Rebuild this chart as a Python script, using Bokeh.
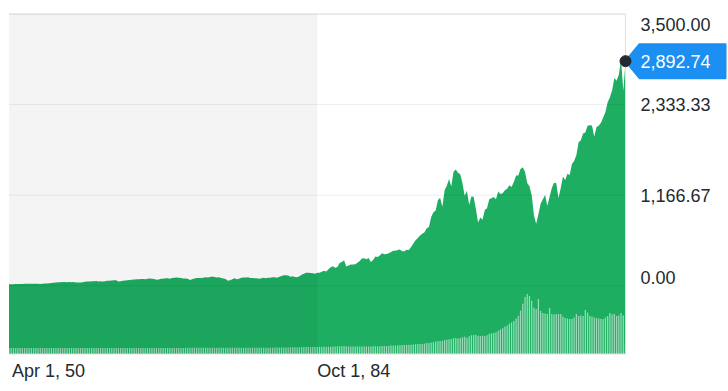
import pandas as pd
from bokeh.plotting import figure
from bokeh.models import Range1d, BoxAnnotation, ColumnDataSource
from bokeh.core.properties import value
from bokeh.embed import file_html
from bokeh.resources import INLINE

# ---- data: quarterly S&P 500 level (quarter start), Apr 1950 .. Apr 2019 ----
price = [
    17.3, 17.7, 19.5,                      # 1950
    20.4, 21.5, 21.0, 23.3,                # 1951
    23.8, 24.4, 25.0, 24.5,                # 1952
    26.2, 25.3, 24.1, 23.3,                # 1953
    24.8, 27.5, 29.2, 32.3,                # 1954
    35.9, 36.6, 41.0, 43.7,                # 1955
    45.4, 48.5, 46.9, 45.4,                # 1956
    46.2, 44.1, 47.4, 42.4,                # 1957
    40.3, 42.1, 45.2, 50.0,                # 1958
    55.4, 55.4, 58.5, 56.9,                # 1959
    59.9, 55.3, 56.9, 53.5,                # 1960
    58.1, 65.1, 64.6, 66.7,                # 1961
    71.6, 69.6, 54.8, 56.3,                # 1962
    63.1, 66.6, 69.4, 71.7,                # 1963
    75.0, 79.0, 81.7, 84.2,                # 1964
    84.8, 86.2, 84.1, 89.9,                # 1965
    92.4, 89.2, 84.7, 76.6,                # 1966
    80.3, 90.2, 90.6, 96.7,                # 1967
    96.5, 90.2, 99.6, 102.9,               # 1968
    103.9, 101.5, 97.7, 93.1,              # 1969
    92.1, 89.6, 72.7, 84.3,                # 1970
    92.2, 100.3, 99.2, 98.3,               # 1971
    102.1, 107.2, 107.1, 110.6,            # 1972
    118.1, 111.5, 104.3, 108.4,            # 1973
    97.6, 93.9, 86.0, 63.5,                # 1974
    70.2, 83.4, 95.2, 83.9,                # 1975
    90.2, 102.8, 104.3, 105.2,             # 1976
    107.5, 98.4, 100.5, 96.5,              # 1977
    95.1, 89.2, 95.5, 102.5,               # 1978
    96.1, 101.6, 102.9, 109.3,             # 1979
    107.9, 102.1, 114.2, 125.5,            # 1980
    135.8, 136.0, 131.2, 116.2,            # 1981
    122.6, 111.9, 109.6, 120.4,            # 1982
    140.6, 153.0, 168.1, 166.1,            # 1983
    164.9, 159.2, 153.2, 166.1,            # 1984
    167.2, 180.7, 191.9, 182.1,            # 1985
    211.3, 238.9, 250.8, 231.3,            # 1986
    242.2, 291.7, 304.0, 328.0,            # 1987
    247.0, 259.0, 273.0, 272.0,            # 1988
    277.0, 294.0, 318.0, 349.0,            # 1989
    353.0, 339.0, 358.0, 306.0,            # 1990
    330.0, 375.0, 371.0, 388.0,            # 1991
    417.0, 404.0, 408.0, 418.0,            # 1992
    435.0, 451.0, 450.0, 459.0,            # 1993
    466.0, 445.0, 444.0, 462.0,            # 1994
    459.0, 500.0, 544.0, 584.0,            # 1995
    615.0, 645.0, 670.0, 687.0,            # 1996
    740.0, 757.0, 885.0, 947.0,            # 1997
    970.0, 1101.0, 1133.0, 1017.0,         # 1998
    1229.0, 1286.0, 1373.0, 1282.0,        # 1999
    1469.0, 1498.0, 1454.0, 1436.0,        # 2000
    1320.0, 1160.0, 1224.0, 1040.0,        # 2001
    1148.0, 1147.0, 990.0, 815.0,          # 2002
    880.0, 848.0, 975.0, 996.0,            # 2003
    1112.0, 1126.0, 1141.0, 1114.0,        # 2004
    1212.0, 1181.0, 1191.0, 1228.0,        # 2005
    1248.0, 1295.0, 1270.0, 1336.0,        # 2006
    1418.0, 1421.0, 1503.0, 1527.0,        # 2007
    1468.0, 1323.0, 1280.0, 1166.0,        # 2008
    903.0, 798.0, 919.0, 1057.0,           # 2009
    1115.0, 1169.0, 1031.0, 1141.0,        # 2010
    1258.0, 1326.0, 1320.0, 1131.0,        # 2011
    1258.0, 1408.0, 1362.0, 1441.0,        # 2012
    1426.0, 1569.0, 1606.0, 1682.0,        # 2013
    1848.0, 1872.0, 1960.0, 1972.0,        # 2014
    2059.0, 2068.0, 2063.0, 1920.0,        # 2015
    2044.0, 2060.0, 2099.0, 2168.0,        # 2016
    2239.0, 2363.0, 2423.0, 2519.0,        # 2017
    2674.0, 2640.0, 2718.0, 2914.0,        # 2018
    2507.0, 2892.74,                       # 2019
]

# average daily volume per quarter, billions of shares
volume = (
    [0.002] * 3 + [0.002] * 16 + [0.003] * 20 +            # 1950-1959
    [0.004] * 20 + [0.008] * 20 +                          # 1960-1969
    [0.014] * 20 + [0.025] * 20 +                          # 1970-1979
    [0.05, 0.05, 0.05, 0.06, 0.06, 0.06, 0.06, 0.06,
     0.07, 0.07, 0.08, 0.08, 0.09, 0.09, 0.09, 0.09,
     0.09, 0.09, 0.09, 0.10] +                             # 1980-1984
    [0.11, 0.11, 0.12, 0.12, 0.13, 0.14, 0.14, 0.15,
     0.17, 0.18, 0.18, 0.20, 0.16, 0.16, 0.16, 0.15,
     0.15, 0.16, 0.16, 0.16] +                             # 1985-1989
    [0.16, 0.16, 0.16, 0.16,                               # 1990
     0.18, 0.19, 0.18, 0.19,                               # 1991
     0.20, 0.20, 0.19, 0.21,                               # 1992
     0.25, 0.26, 0.25, 0.27,                               # 1993
     0.29, 0.30, 0.30, 0.31,                               # 1994
     0.33, 0.34, 0.35, 0.38,                               # 1995
     0.40, 0.41, 0.42, 0.45,                               # 1996
     0.50, 0.52, 0.55, 0.60,                               # 1997
     0.65, 0.70, 0.71, 0.75,                               # 1998
     0.80, 0.85, 0.90, 0.92,                               # 1999
     1.00, 1.02, 0.98, 1.02,                               # 2000
     1.10, 1.15, 1.05, 1.20,                               # 2001
     1.30, 1.32, 1.35, 1.25,                               # 2002
     1.22, 1.25, 1.22, 1.30,                               # 2003
     1.45, 1.50, 1.53, 1.60,                               # 2004
     1.75, 1.90, 2.00, 2.20,                               # 2005
     2.30, 2.50, 2.60, 2.75,                               # 2006
     3.00, 3.26, 3.80, 4.50,                               # 2007
     5.20, 5.50, 5.30, 4.80,                               # 2008
     4.10, 3.97, 4.99, 3.77,                               # 2009
     3.57, 3.50, 3.46, 4.07,                               # 2010
     3.46, 3.40, 3.46, 3.46,                               # 2011
     3.46, 3.20, 3.06, 3.00,                               # 2012
     2.95, 2.95, 3.10, 3.46,                               # 2013
     3.26, 3.30, 3.26, 3.87,                               # 2014
     3.60, 3.26, 3.20, 3.10,                               # 2015
     3.06, 3.00, 2.95, 2.95,                               # 2016
     3.10, 3.26, 3.57, 3.40,                               # 2017
     3.46, 3.26, 3.30, 3.57,                               # 2018
     3.30, 0.41]                                           # 2019
)

y_ticks = [0, 1166.67, 2333.33, 3500]
y_tick_labels = ["0.00", "1,166.67", "2,333.33", "3,500.00"]
x_tick_dates = ["1950-04-01", "1984-10-01"]
x_tick_labels = ["Apr 1, 50", "Oct 1, 84"]
last_price = 2892.74
last_label = "2,892.74"

dates = pd.date_range("1950-04-01", "2019-04-01", freq="QS")
assert len(dates) == len(price) == len(volume), (len(dates), len(price), len(volume))
src = ColumnDataSource(dict(date=dates, price=price, volume=volume))

FONT = value("Liberation Sans")
TXT = "#232a31"
GREEN = "#1eae62"
BORDER = "#dfe0e6"
BLUE = "#1b8ff2"
W, H = 728, 391
# pixel layout of the chart body inside the canvas
PX_L, PX_R = 8.5, 625.0      # x of first / last data point
PX_T, PX_B = 13.5, 353.5     # y of top (3500) / bottom of the chart body
Y0, Y1 = -880.0, 3500.0      # price values at bottom / top of the chart body
V0, V1 = -0.61, 34.0         # volume values at bottom / top of the chart body

x0 = dates[0].value // 10**6
x1 = dates[-1].value // 10**6
mspx = (x1 - x0) / (PX_R - PX_L)
upx = (Y1 - Y0) / (PX_B - PX_T)
vpx = (V1 - V0) / (PX_B - PX_T)

p = figure(x_axis_type="datetime", frame_width=W, frame_height=H,
           min_border_left=0, min_border_right=0, min_border_top=0, min_border_bottom=0,
           x_range=Range1d(x0 - PX_L * mspx, x0 + (W - PX_L) * mspx),
           y_range=Range1d(Y0 - (H - PX_B) * upx, Y1 + PX_T * upx),
           output_backend="svg", toolbar_location=None,
           background_fill_color="white", border_fill_color="white",
           outline_line_color=None)
p.extra_y_ranges = {"vol": Range1d(V0 - (H - PX_B) * vpx, V1 + PX_T * vpx)}
p.axis.visible = False
p.grid.visible = False

# price area and volume bars
p.varea(x="date", y1=Y0, y2="price", source=src, fill_color=GREEN)
quarter_ms = 91.3 * 86400000
p.vbar(x="date", top="volume", bottom=V0, width=quarter_ms * 0.55, source=src,
       y_range_name="vol", fill_color="white", fill_alpha=0.55, line_color=None)

# horizontal grid lines
p.segment(x0=x0, x1=x1, y0=y_ticks, y1=y_ticks, line_color="black",
          line_alpha=0.07, line_width=1)

# shaded older period
p.add_layout(BoxAnnotation(left=x0, right=pd.Timestamp(x_tick_dates[1]),
                           bottom=Y0, top=Y1, fill_color="black",
                           fill_alpha=0.045, line_color=None))

# chart border (top, right, bottom)
p.segment(x0=[x0, x1, x0], y0=[Y1, Y1, Y0], x1=[x1, x1, x1], y1=[Y1, Y0, Y0],
          line_color=BORDER, line_width=1)

# y tick labels (right side)
p.text(x=[x1 + 15 * mspx] * len(y_ticks), y=y_ticks, text=y_tick_labels,
       y_offset=[-8, 0, 0, 10], text_font=FONT, text_font_size="18px",
       text_color=TXT, text_align="left", text_baseline="middle")

# x tick labels (below)
x_ms = [pd.Timestamp(d).value // 10**6 for d in x_tick_dates]
p.text(x=x_ms, y=[Y0] * len(x_ms), text=x_tick_labels, x_offset=[3, 0], y_offset=7,
       text_font=FONT, text_font_size="18px", text_color=TXT,
       text_align="left", text_baseline="top")

# last price tag
t = last_price
h = 17 * upx
p.patch(x=[x1, x1 + 14 * mspx, x1 + 100 * mspx, x1 + 100 * mspx, x1 + 14 * mspx],
        y=[t, t + h, t + h, t - h, t - h], fill_color=BLUE, line_color=BLUE,
        line_join="round", line_width=2)
p.scatter(x=[x1], y=[t], size=11, fill_color=TXT, line_color=TXT)
p.text(x=[x1 + 15 * mspx], y=[t], text=[last_label], text_font=FONT,
       text_font_size="18px", text_color="white", text_align="left",
       text_baseline="middle")

open("out.html", "w").write(file_html(p, INLINE))
